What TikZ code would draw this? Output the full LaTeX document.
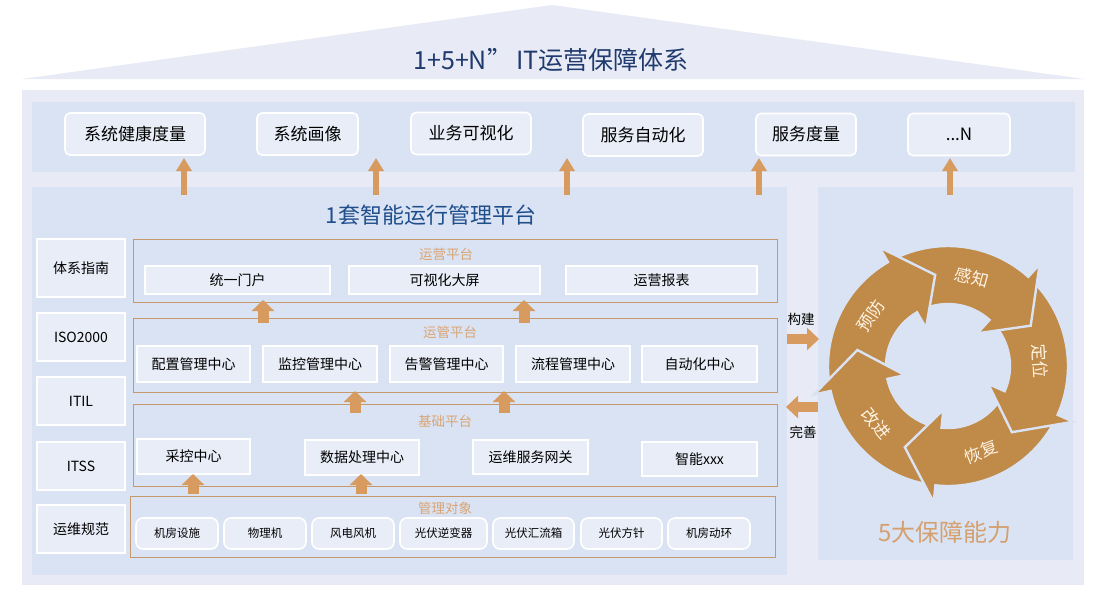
\documentclass[tikz,border=0pt]{standalone}
\usepackage{fontspec}
\setmainfont{Noto Sans CJK SC}
\usetikzlibrary{arrows.meta}
\definecolor{outerbg}{HTML}{E8EBF5}
\definecolor{bandbg}{HTML}{DAE3F3}
\definecolor{boxbg}{HTML}{E9EDF7}
\definecolor{secline}{HTML}{C49A6C}
\definecolor{seclabc}{HTML}{D9A574}
\definecolor{arrowc}{HTML}{D89B5F}
\definecolor{cyc}{HTML}{C08A48}
\definecolor{navy}{HTML}{1F3A6E}
\definecolor{navytwo}{HTML}{1F4E8C}
\definecolor{goldc}{HTML}{D4A06E}
\definecolor{cyctext}{HTML}{FFF4E4}
\newcommand\myfs[1]{\fontsize{#1}{#1}\selectfont}
\newcommand\cyarrow[1]{%
  \pgfmathsetmacro\cyS{#1+68}\pgfmathsetmacro\cyT{#1-22}%
  \filldraw[fill=cyc, draw=bandbg, line width=2.4pt, line join=miter]
   (\cyS:120pt) arc[start angle=\cyS, end angle=#1, radius=120pt]
   -- (#1:137pt) -- (\cyT:92pt) -- (#1:44pt) -- (#1:62pt)
   arc[start angle=#1, end angle=\cyS, radius=62pt] -- cycle;}
\tikzset{
  sz/.style 2 args={minimum width=#1pt, minimum height=#2pt},
  tbox/.style={draw=white, line width=1.6pt, fill=boxbg, rounded corners=5pt, inner sep=0pt, font=\myfs{17}},
  lbox/.style={draw=white, line width=1.6pt, fill=boxbg, inner sep=0pt, font=\myfs{14}},
  ibox/.style={draw=white, line width=1.6pt, fill=boxbg, inner sep=0pt, font=\myfs{14}},
  obox/.style={draw=white, line width=1.6pt, fill=boxbg, rounded corners=7pt, inner sep=0pt, font=\myfs{11.5}},
  secbox/.style={draw=secline, line width=0.9pt, inner sep=0pt},
  seclab/.style={text=seclabc, font=\myfs{13.5}},
  uparr/.style={draw=arrowc, line width=6pt, -{Triangle[width=15pt,length=13pt]}},
  fatarr/.style={draw=arrowc, line width=11pt, -{Triangle[width=22pt,length=11pt]}},
  sidearr/.style={draw=arrowc, line width=10pt, -{Triangle[width=22pt,length=12pt]}},
  cyclab/.style={text=cyctext, font=\myfs{17}, inner sep=0pt},
  sidelab/.style={font=\myfs{13.5}}
}
\begin{document}
\begin{tikzpicture}[x=1pt,y=-1pt]
\useasboundingbox (0,0) rectangle (1105,595);
\fill[white] (0,0) rectangle (1105,595);
% roof and panels
\fill[outerbg] (22,79) -- (552,5) -- (1084,79) -- cycle;
\node[text=navy, font=\myfs{25}] (title) at (551,60) {1+5+N”\,IT运营保障体系};
\fill[outerbg] (22,90) rectangle (1084,585);
\fill[bandbg] (32,102) rectangle (1075,172);
\fill[bandbg] (32,187) rectangle (787,575);
\fill[bandbg] (818,187) rectangle (1073,560);
% top boxes
\node[tbox, sz={140}{42}] (t1) at (135,134) {系统健康度量};
\node[tbox, sz={101}{42}] (t2) at (307.5,134) {系统画像};
\node[tbox, sz={120}{42}] (t3) at (471,133.5) {业务可视化};
\node[tbox, sz={120}{42}] (t4) at (643,135) {服务自动化};
\node[tbox, sz={100}{42}] (t5) at (806,134.5) {服务度量};
\node[tbox, sz={102}{42}] (t6) at (959,134.5) {...N};
% top arrows
\foreach \i/\x in {1/184,2/376,3/567,4/759,5/950}{
  \coordinate (ua\i s) at (\x,195);
  \coordinate (ua\i e) at (\x,158);
  \draw[uparr] (ua\i s) -- (ua\i e);
}
% platform title
\node[text=navytwo, font=\myfs{22}] (ptitle) at (431,215) {1套智能运行管理平台};
% left column
\node[lbox, sz={88}{58}] (l1) at (81,268) {体系指南};
\node[lbox, sz={88}{48}] (l2) at (81,337) {ISO2000};
\node[lbox, sz={88}{48}] (l3) at (81,401) {ITIL};
\node[lbox, sz={88}{48}] (l4) at (81,466) {ITSS};
\node[lbox, sz={88}{48}] (l5) at (81,529) {运维规范};
% section 1
\node[secbox, sz={644}{63}] (s1) at (455,270.5) {};
\node[seclab] (s1l) at (446,254) {运营平台};
\node[ibox, sz={185}{28}] (b11) at (237.5,280) {统一门户};
\node[ibox, sz={191}{28}] (b12) at (444.5,280) {可视化大屏};
\node[ibox, sz={191}{28}] (b13) at (661.5,280) {运营报表};
% section 2
\node[secbox, sz={644}{74}] (s2) at (455,355) {};
\node[seclab] (s2l) at (450,332) {运管平台};
\node[ibox, sz={113}{36}] (b21) at (193.5,364) {配置管理中心};
\node[ibox, sz={114}{36}] (b22) at (320,364) {监控管理中心};
\node[ibox, sz={113}{36}] (b23) at (446.5,364) {告警管理中心};
\node[ibox, sz={114}{36}] (b24) at (573,364) {流程管理中心};
\node[ibox, sz={115}{36}] (b25) at (699.5,364) {自动化中心};
% section 3
\node[secbox, sz={644}{82}] (s3) at (455,445) {};
\node[seclab] (s3l) at (445,421) {基础平台};
\node[ibox, sz={113}{35}] (b31) at (193.5,456.5) {采控中心};
\node[ibox, sz={114}{35}] (b32) at (362,457.5) {数据处理中心};
\node[ibox, sz={115}{34}] (b33) at (530.5,457) {运维服务网关};
\node[ibox, sz={115}{34}] (b34) at (699.5,459) {智能xxx};
% section 4
\node[secbox, sz={645}{61}] (s4) at (452.5,526.5) {};
\node[seclab] (s4l) at (445,508) {管理对象};
\node[obox, sz={82}{31}] (o1) at (177,533.5) {机房设施};
\node[obox, sz={82}{31}] (o2) at (265,533.5) {物理机};
\node[obox, sz={82}{31}] (o3) at (353,533.5) {风电风机};
\node[obox, sz={87}{31}] (o4) at (443.5,533.5) {光伏逆变器};
\node[obox, sz={81}{31}] (o5) at (533.5,533.5) {光伏汇流箱};
\node[obox, sz={81}{31}] (o6) at (621.5,533.5) {光伏方针};
\node[obox, sz={82}{31}] (o7) at (709,533.5) {机房动环};
% inter-section arrows
\foreach \n/\x/\ya/\yb in {a/263/323/300, b/524/323/300, c/355/413/391, d/504/413/391, e/193/494/474, f/361/494/474}{
  \coordinate (fa\n s) at (\x,\ya);
  \coordinate (fa\n e) at (\x,\yb);
  \draw[fatarr] (fa\n s) -- (fa\n e);
}
% side arrows
\node[sidelab] (gj) at (801,319) {构建};
\coordinate (gjs) at (787,339);
\coordinate (gje) at (819,339);
\draw[sidearr] (gjs) -- (gje);
\node[sidelab] (ws) at (803,432) {完善};
\coordinate (wss) at (818,407);
\coordinate (wse) at (786,407);
\draw[sidearr] (wss) -- (wse);
% cycle
\begin{scope}[shift={(948,366)}]
  \foreach \b in {-168,-96,-24,48,120}{\cyarrow{\b}}
  \begin{scope}
    \clip (0pt,0pt) -- (150:170pt) -- (180:170pt) -- (210:170pt) -- cycle;
    \cyarrow{-168}
  \end{scope}
  \node[cyclab, rotate=-15] (c1) at (75:92pt) {感知};
  \node[cyclab, rotate=-87] (c2) at (3:92pt) {定位};
  \node[cyclab, rotate=21] (c3) at (-69:92pt) {恢复};
  \node[cyclab, rotate=-51] (c4) at (-141:92pt) {改进};
  \node[cyclab, rotate=57] (c5) at (147:92pt) {预防};
\end{scope}
\node[text=goldc, font=\myfs{24}] (five) at (945,532) {5大保障能力};
\end{tikzpicture}
\end{document}
